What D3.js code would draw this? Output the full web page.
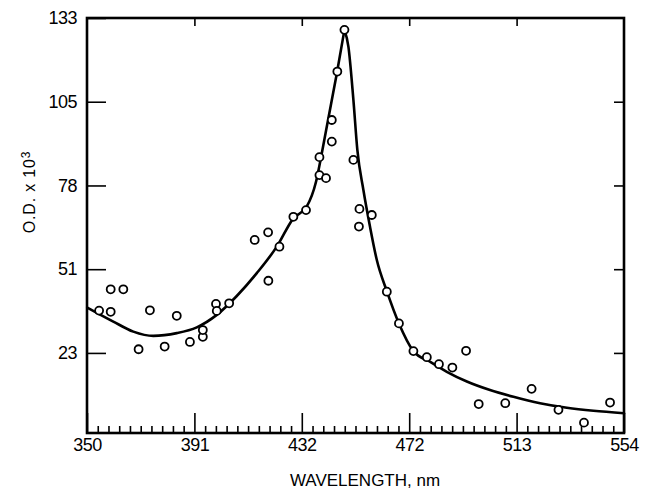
<!DOCTYPE html>
<html>
<head>
<meta charset="utf-8">
<script src="https://cdn.jsdelivr.net/npm/d3@7"></script>
<style>
  html, body { margin: 0; padding: 0; background: #fff; }
  svg { display: block; }
</style>
</head>
<body>
<svg id="chart" width="648" height="491"></svg>
<script>
// ---- data ----
const xTickValues = [350, 390.8, 431.6, 472.4, 513.2, 554];
const xTickLabels = ["350", "391", "432", "472", "513", "554"];
const yTickValues = [23, 50.5, 78, 105.5, 133];
const yTickLabels = ["23", "51", "78", "105", "133"];

const pointWavelength = [354.6, 359.0, 359.0, 363.8, 373.9, 369.6, 379.5, 384.1, 389.1, 394.0,
  394.0, 399.0, 399.3, 404.0, 418.9, 423.1, 413.7, 418.8, 428.4, 433.2,
  438.3, 440.8, 438.3, 443.0, 443.0, 445.1, 447.8, 451.2, 453.5, 458.2,
  453.3, 463.9, 468.5, 474.0, 479.1, 483.7, 488.8, 494.0, 498.8, 508.9,
  518.9, 529.1, 538.8, 548.7];
const pointOD = [36.9, 36.5, 43.9, 43.9, 37.0, 24.2, 25.1, 35.2, 26.6, 28.3,
  30.5, 39.1, 36.8, 39.3, 46.7, 57.9, 60.1, 62.6, 67.7, 69.9,
  81.4, 80.4, 87.3, 92.4, 99.5, 115.4, 129.1, 86.4, 70.3, 68.3,
  64.5, 43.1, 32.7, 23.6, 21.6, 19.3, 18.2, 23.7, 6.2, 6.5,
  11.2, 4.3, 0.1, 6.7];

const curveWavelength = [350.1, 360.0, 367.6, 375.2, 384.1, 391.7, 399.3, 406.9, 414.5, 422.1,
  428.4, 433.5, 437.0, 439.2, 441.7, 444.9, 447.8, 449.3, 451.2, 452.7,
  455.0, 457.5, 460.1, 463.9, 468.5, 474.0, 480.3, 486.7, 494.3, 503.1,
  512.0, 522.1, 532.3, 542.4, 554.0];
const curveOD = [37.9, 33.3, 30.0, 28.6, 29.5, 31.4, 35.5, 41.7, 49.2, 57.9,
  67.2, 71.1, 79.2, 88.6, 100.1, 114.8, 129.1, 123.6, 106.1, 89.7,
  76.5, 64.5, 53.5, 43.3, 32.7, 23.6, 20.1, 16.8, 13.6, 10.8,
  8.6, 6.5, 5.0, 4.0, 3.2];

// ---- layout ----
const svg = d3.select("#chart");
const mLeft = 87, mRight = 624, mTop = 18, mBottom = 433;
const x = d3.scaleLinear().domain([350, 554]).range([mLeft, mRight]);
const y = d3.scaleLinear().domain([-3.3, 133]).range([mBottom, mTop]);

const font = "'Liberation Sans', Arial, sans-serif";

// minor x ticks (10 per major interval)
const minorTicks = d3.range(0, 51).map(i => 350 + i * (554 - 350) / 50)
  .filter((v, i) => i % 10 !== 0);

function styleAxis(g) {
  g.select(".domain").remove();
  g.selectAll(".tick line").attr("stroke", "#000").attr("stroke-width", 1.6);
  g.selectAll(".tick text").attr("fill", "#000")
    .style("font-family", font).style("font-size", "18px")
    .style("letter-spacing", "-0.5px");
}

// bottom minor ticks
svg.append("g").attr("transform", `translate(0,${mBottom})`)
  .call(d3.axisBottom(x).tickValues(minorTicks).tickSize(-7).tickFormat(""))
  .call(styleAxis);

// bottom major ticks + labels
svg.append("g").attr("transform", `translate(0,${mBottom})`)
  .call(d3.axisBottom(x).tickValues(xTickValues).tickSize(-20).tickPadding(5)
    .tickFormat((d, i) => xTickLabels[i]))
  .call(styleAxis);

// top major ticks
svg.append("g").attr("transform", `translate(0,${mTop})`)
  .call(d3.axisTop(x).tickValues(xTickValues.slice(1, -1)).tickSize(-8).tickFormat(""))
  .call(styleAxis);

// left ticks + labels
svg.append("g").attr("transform", `translate(${mLeft},0)`)
  .call(d3.axisLeft(y).tickValues(yTickValues).tickSize(-19).tickPadding(10)
    .tickFormat((d, i) => yTickLabels[i]))
  .call(styleAxis);

// right ticks
svg.append("g").attr("transform", `translate(${mRight},0)`)
  .call(d3.axisRight(y).tickValues(yTickValues.slice(0, -1)).tickSize(-10).tickFormat(""))
  .call(styleAxis);

// frame
svg.append("rect")
  .attr("x", mLeft).attr("y", mTop)
  .attr("width", mRight - mLeft).attr("height", mBottom - mTop)
  .attr("fill", "none").attr("stroke", "#000").attr("stroke-width", 2.6);

// curve: two monotone branches meeting at the peak (cusp)
const curvePts = curveWavelength.map((w, i) => [w, curveOD[i]]);
const peakIdx = d3.maxIndex(curveOD);
const line = d3.line().x(d => x(d[0])).y(d => y(d[1])).curve(d3.curveMonotoneX);
[curvePts.slice(0, peakIdx + 1), curvePts.slice(peakIdx)].forEach(seg => {
  svg.append("path").attr("d", line(seg))
    .attr("fill", "none").attr("stroke", "#000").attr("stroke-width", 2.6)
    .attr("stroke-linejoin", "round").attr("stroke-linecap", "round");
});

// points
svg.append("g").selectAll("circle")
  .data(pointWavelength.map((w, i) => [w, pointOD[i]]))
  .join("circle")
  .attr("cx", d => x(d[0])).attr("cy", d => y(d[1])).attr("r", 4)
  .attr("fill", "#fff").attr("stroke", "#000").attr("stroke-width", 1.8);

// axis titles
svg.append("text")
  .attr("x", 365).attr("y", 486)
  .attr("text-anchor", "middle")
  .style("font-family", font).style("font-size", "17px")
  .text("WAVELENGTH, nm");

const yt = svg.append("text")
  .attr("transform", "translate(35,192) rotate(-90)")
  .attr("text-anchor", "middle")
  .style("font-family", font).style("font-size", "16px")
  .style("letter-spacing", "0.8px");
yt.append("tspan").text("O.D. x 10");
yt.append("tspan").attr("dy", "-0.45em").style("font-size", "12px").text("3");
</script>
</body>
</html>
